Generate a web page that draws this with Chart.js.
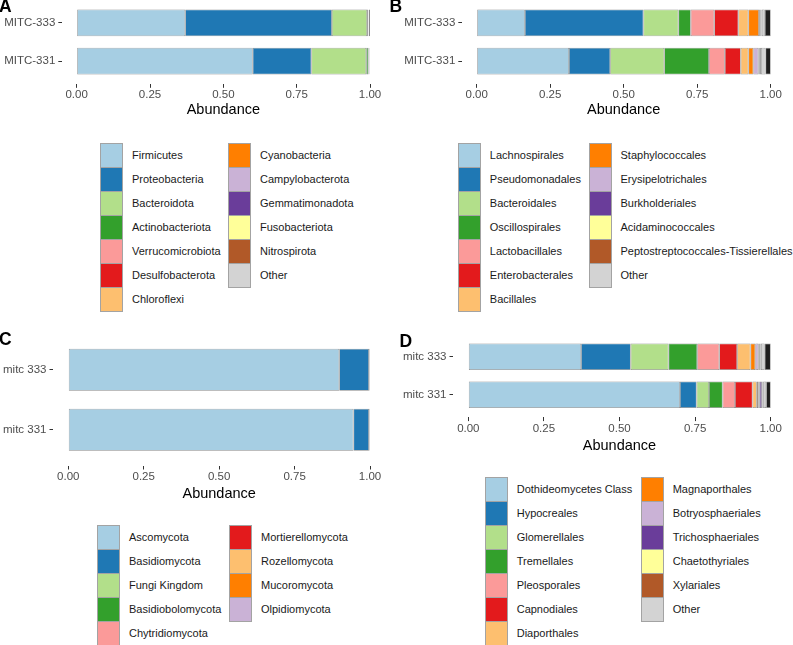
<!DOCTYPE html>
<html>
<head>
<meta charset="utf-8">
<script src="https://cdn.jsdelivr.net/npm/chart.js@4.4.1/dist/chart.umd.min.js"></script>
<style>
  body { margin: 0; width: 793px; height: 645px; position: relative; background: #fff; overflow: hidden;
         font-family: "Liberation Sans", Arial, sans-serif; }
  canvas { position: absolute; }
  .tag { position: absolute; font-weight: bold; font-size: 17.5px; line-height: 1; color: #000; }
  .key { position: absolute; box-sizing: border-box; width: 23px; height: 25px; border: 1px solid #a3a3a3; }
  .lab { position: absolute; height: 24px; line-height: 24px; font-size: 11px; color: #1a1a1a; white-space: nowrap; }
</style>
</head>
<body>
<canvas id="chartA"></canvas>
<canvas id="chartB"></canvas>
<canvas id="chartC"></canvas>
<canvas id="chartD"></canvas>
<div id="legends"></div>

<script>
// Палитра Paired + серый для "Other"
const paired = ['#A6CEE3', '#1F78B4', '#B2DF8A', '#33A02C', '#FB9A99', '#E31A1C',
                '#FDBF6F', '#FF7F00', '#CAB2D6', '#6A3D9A', '#FFFF99', '#B15928'];
const otherColor = '#D3D3D3';
const rareColor = '#1e1e1e';

const xTicks = [0, 0.25, 0.5, 0.75, 1];

// ---------------------------
// A: бактерии, типы
// ---------------------------
const samplesA = ['MITC-333', 'MITC-331'];
const phyla = ['Firmicutes', 'Proteobacteria', 'Bacteroidota', 'Actinobacteriota', 'Verrucomicrobiota',
               'Desulfobacterota', 'Chloroflexi', 'Cyanobacteria', 'Campylobacterota', 'Gemmatimonadota',
               'Fusobacteriota', 'Nitrospirota', 'Other'];
const phylaMITC333 = [0.370, 0.500, 0.120, 0.003, 0.0005, 0.0005, 0.0003, 0.0002, 0.0002, 0.0001, 0.0001, 0.0001, 0.0005];
const phylaMITC331 = [0.600, 0.200, 0.187, 0.007, 0.002, 0.0008, 0.0004, 0.0002, 0.0002, 0.0001, 0.0001, 0.0001, 0.0015];
const phylaRare = [0.0045, 0.0006];   // мелкие таксоны в конце полосы (тёмные)

// ---------------------------
// B: бактерии, порядки
// ---------------------------
const samplesB = ['MITC-333', 'MITC-331'];
const orders = ['Lachnospirales', 'Pseudomonadales', 'Bacteroidales', 'Oscillospirales', 'Lactobacillales',
                'Enterobacterales', 'Bacillales', 'Staphylococcales', 'Erysipelotrichales', 'Burkholderiales',
                'Acidaminococcales', 'Peptostreptococcales-Tissierellales', 'Other'];
const ordersMITC333 = [0.164, 0.403, 0.119, 0.042, 0.080, 0.082, 0.034, 0.036, 0.003, 0.003, 0.002, 0.002, 0.010];
const ordersMITC331 = [0.314, 0.140, 0.184, 0.152, 0.054, 0.054, 0.026, 0.017, 0.017, 0.003, 0.003, 0.003, 0.015];
const ordersRare = [0.020, 0.018];

// ---------------------------
// C: грибы, типы
// ---------------------------
const samplesC = ['mitc 333', 'mitc 331'];
const fungiPhyla = ['Ascomycota', 'Basidiomycota', 'Fungi Kingdom', 'Basidiobolomycota', 'Chytridiomycota',
                    'Mortierellomycota', 'Rozellomycota', 'Mucoromycota', 'Olpidiomycota'];
const fungiPhylaMitc333 = [0.898, 0.0985, 0.0005, 0.0003, 0.0002, 0.0002, 0.0001, 0.0001, 0.0001];
const fungiPhylaMitc331 = [0.945, 0.0515, 0.0005, 0.0003, 0.0002, 0.0002, 0.0001, 0.0001, 0.0001];
const fungiPhylaRare = [0.002, 0.002];

// ---------------------------
// D: грибы, порядки
// ---------------------------
const samplesD = ['mitc 333', 'mitc 331'];
const fungiOrders = ['Dothideomycetes Class', 'Hypocreales', 'Glomerellales', 'Tremellales', 'Pleosporales',
                     'Capnodiales', 'Diaporthales', 'Magnaporthales', 'Botryosphaeriales', 'Trichosphaeriales',
                     'Chaetothyriales', 'Xylariales', 'Other'];
const fungiOrdersMitc333 = [0.373, 0.164, 0.125, 0.095, 0.073, 0.059, 0.044, 0.016, 0.010, 0.003, 0.004, 0.002, 0.012];
const fungiOrdersMitc331 = [0.700, 0.055, 0.041, 0.045, 0.041, 0.058, 0.014, 0.005, 0.005, 0.007, 0.002, 0.002, 0.010];
const fungiOrdersRare = [0.020, 0.015];

// Геометрия панелей (в пикселях страницы)
const panels = [
    { id: 'chartA', tag: 'A', samples: samplesA, taxa: phyla, values: [phylaMITC333, phylaMITC331], rare: phylaRare,
      box: { left: 0, top: 0, width: 395, height: 125 }, area: { l: 62, r: 384.7, t: 0, b: 84.1 }, titleY: 109.5,
      tagPos: [-1, -2.3], legend: { x: 100, y: 143, col2: 228, text: 32 } },
    { id: 'chartB', tag: 'B', samples: samplesB, taxa: orders, values: [ordersMITC333, ordersMITC331], rare: ordersRare,
      box: { left: 390, top: 0, width: 403, height: 125 }, area: { l: 72, r: 395.4, t: 0, b: 84.1 }, titleY: 109.5,
      tagPos: [389.5, -2.3], legend: { x: 458.3, y: 143.3, col2: 589, text: 31.5 } },
    { id: 'chartC', tag: 'C', samples: samplesC, taxa: fungiPhyla, values: [fungiPhylaMitc333, fungiPhylaMitc331], rare: fungiPhylaRare,
      box: { left: 0, top: 325, width: 395, height: 190 }, area: { l: 53.2, r: 385.1, t: 8.8, b: 140.8 }, titleY: 169,
      tagPos: [-1, 330.7], legend: { x: 97, y: 524.5, col2: 229, text: 32 } },
    { id: 'chartD', tag: 'D', samples: samplesD, taxa: fungiOrders, values: [fungiOrdersMitc333, fungiOrdersMitc331], rare: fungiOrdersRare,
      box: { left: 390, top: 325, width: 403, height: 140 }, area: { l: 63.2, r: 395.8, t: 9.1, b: 92.4 }, titleY: 121,
      tagPos: [399.5, 332.7], legend: { x: 485, y: 476.7, col2: 641, text: 31.7 } }
];

Chart.defaults.font.family = '"Liberation Sans", Arial, sans-serif';

function colorsFor(taxa) {
    return taxa.map((name, i) => name === 'Other' ? otherColor : paired[i]);
}

function drawPanel(p) {
    const canvas = document.getElementById(p.id);
    canvas.width = p.box.width;
    canvas.height = p.box.height;
    canvas.style.left = p.box.left + 'px';
    canvas.style.top = p.box.top + 'px';

    const colors = colorsFor(p.taxa);
    const datasets = p.taxa.map((name, t) => ({
        label: name,
        data: p.samples.map((s, i) => ({ y: i + 1, x: p.values[i][t] })),
        backgroundColor: colors[t]
    }));
    // тёмный хвост из мелких таксонов
    datasets.push({
        label: 'rare',
        data: p.samples.map((s, i) => ({ y: i + 1, x: p.rare[i] })),
        backgroundColor: rareColor
    });

    const titleHalf = 14.5 * 1.2 / 2;

    new Chart(canvas.getContext('2d'), {
        type: 'bar',
        data: { datasets },
        options: {
            indexAxis: 'y',
            responsive: false,
            animation: false,
            events: [],
            layout: {
                padding: {
                    left: 0,
                    top: p.area.t,
                    right: p.box.width - p.area.r,
                    bottom: p.box.height - p.titleY - titleHalf
                }
            },
            plugins: { legend: { display: false }, tooltip: { enabled: false } },
            datasets: {
                bar: {
                    barPercentage: 0.7,
                    categoryPercentage: 1,
                    borderWidth: 0.7,
                    borderColor: '#8a8a8a',
                    borderSkipped: false
                }
            },
            scales: {
                x: {
                    type: 'linear',
                    stacked: true,
                    min: -0.05,
                    max: 1.05,
                    afterBuildTicks: s => { s.ticks = xTicks.map(v => ({ value: v })); },
                    afterFit: s => {
                        s.height = p.titleY + titleHalf - p.area.b;
                        s.paddingLeft = 0;
                        s.paddingRight = 0;
                    },
                    border: { display: false },
                    grid: { drawOnChartArea: false, drawTicks: true, tickLength: 3.7, tickColor: '#333', lineWidth: 1 },
                    ticks: {
                        padding: 0.5, color: '#4d4d4d', font: { size: 11.5 },
                        maxRotation: 0, autoSkip: false,
                        callback: v => v.toFixed(2)
                    },
                    title: { display: true, text: 'Abundance', color: '#000', font: { size: 14.5 }, padding: 0 }
                },
                y: {
                    type: 'linear',
                    stacked: true,
                    reverse: true,
                    offset: false,
                    min: 0.4,
                    max: 2.6,
                    afterBuildTicks: s => { s.ticks = p.samples.map((_, i) => ({ value: i + 1 })); },
                    afterFit: s => {
                        s.width = p.area.l;
                        s.paddingTop = 0;
                        s.paddingBottom = 0;
                    },
                    border: { display: false },
                    grid: { offset: false, drawOnChartArea: false, drawTicks: true, tickLength: 3.7, tickColor: '#333', lineWidth: 1 },
                    ticks: {
                        padding: 3, color: '#4d4d4d', font: { size: 11.5 },
                        autoSkip: false,
                        callback: v => p.samples[v - 1]
                    }
                }
            }
        }
    });

    // Метка панели
    const tag = document.createElement('div');
    tag.className = 'tag';
    tag.textContent = p.tag;
    tag.style.left = p.tagPos[0] + 'px';
    tag.style.top = p.tagPos[1] + 'px';
    document.body.appendChild(tag);

    buildLegend(p.legend, p.taxa, colors);
}

// Легенда в две колонки, заполнение по столбцам
function buildLegend(pos, taxa, colors) {
    const holder = document.getElementById('legends');
    const rows = Math.ceil(taxa.length / 2);
    taxa.forEach((name, i) => {
        const col = Math.floor(i / rows);
        const row = i % rows;
        const x = col === 0 ? pos.x : pos.col2;
        const y = pos.y + row * 24;

        const key = document.createElement('div');
        key.className = 'key';
        key.style.left = x + 'px';
        key.style.top = y + 'px';
        key.style.background = colors[i];
        holder.appendChild(key);

        const lab = document.createElement('div');
        lab.className = 'lab';
        lab.style.left = (x + pos.text) + 'px';
        lab.style.top = y + 'px';
        lab.textContent = name;
        holder.appendChild(lab);
    });
}

panels.forEach(drawPanel);
</script>
</body>
</html>
